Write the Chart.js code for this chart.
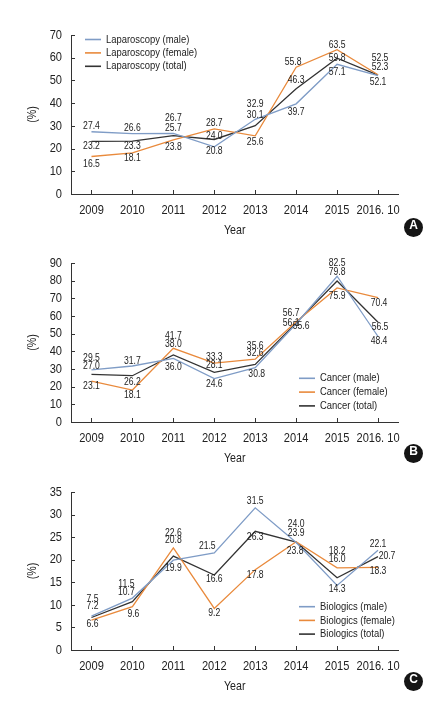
<!DOCTYPE html>
<html>
<head>
<meta charset="utf-8">
<script src="https://cdn.jsdelivr.net/npm/chart.js@4.4.1/dist/chart.umd.min.js"></script>
<style>
  html, body { margin: 0; padding: 0; background: #fff; }
  #page { position: relative; width: 434px; height: 705px; overflow: hidden; background: #fff; }
  .panel { position: absolute; left: 0; width: 434px; }
  .badge {
    position: absolute; left: 404px; width: 19px; height: 19px; border-radius: 50%;
    background: #151515; color: #fff; text-align: center; line-height: 19px;
    font: bold 12px 'Liberation Sans', Arial, sans-serif;
  }
</style>
</head>
<body>
<div id="page">
  <div class="panel" style="top:0;height:240px"><canvas id="chartA"></canvas></div>
  <div class="panel" style="top:240px;height:228px"><canvas id="chartB"></canvas></div>
  <div class="panel" style="top:470px;height:226px"><canvas id="chartC"></canvas></div>
  <div class="badge" style="top:218px">A</div>
  <div class="badge" style="top:444px">B</div>
  <div class="badge" style="top:672px">C</div>
</div>
<script>
// categories
const years = ['2009', '2010', '2011', '2012', '2013', '2014', '2015', '2016. 10'];

// A - laparoscopy (%)
const lapMale   = [27.4, 26.6, 26.7, 20.8, 32.9, 39.7, 57.1, 52.1];
const lapFemale = [16.5, 18.1, 23.8, 28.7, 25.6, 55.8, 63.5, 52.5];
const lapTotal  = [23.2, 23.3, 25.7, 24.0, 30.1, 46.3, 59.8, 52.3];
const lapNames  = ['Laparoscopy (male)', 'Laparoscopy (female)', 'Laparoscopy (total)'];

// B - cancer (%)
const cancerMale   = [29.5, 31.7, 36.0, 24.6, 30.8, 55.6, 82.5, 48.4];
const cancerFemale = [23.1, 18.1, 41.7, 33.3, 35.6, 56.7, 75.9, 70.4];
const cancerTotal  = [27.0, 26.2, 38.0, 28.1, 32.6, 56.1, 79.8, 56.5];
const cancerNames  = ['Cancer (male)', 'Cancer (female)', 'Cancer (total)'];

// C - biologics (%)
const bioMale   = [7.5, 11.5, 19.9, 21.5, 31.5, 23.8, 14.3, 22.1];
const bioFemale = [6.6, 9.6, 22.6, 9.2, 17.8, 24.0, 18.2, 18.3];
const bioTotal  = [7.2, 10.7, 20.8, 16.6, 26.3, 23.9, 16.0, 20.7];
const bioNames  = ['Biologics (male)', 'Biologics (female)', 'Biologics (total)'];

// y axis ranges
const lapAxis = { max: 70, step: 10 };
const cancerAxis = { max: 90, step: 10 };
const bioAxis = { max: 35, step: 5 };

// where each value label sits, relative to its point [dx, dy]
const lapMaleOff   = [[0,-6],[0,-5],[0,-15],[0,4],[0,-15],[0,8],[0,8],[0,6]];
const lapFemaleOff = [[0,7.5],[0,5.5],[0,7],[0,-5.5],[0,6],[-3,-5],[0,-5],[2,-17]];
const lapTotalOff  = [[0,5],[0,5],[0,-8],[0,-3],[0,-10.5],[0,-9],[0,0],[2,-8]];

const cancerMaleOff   = [[0,-12],[0,-4.5],[0,9],[0,6],[1.5,7],[5,2.5],[0,-13],[1,4.5]];
const cancerFemaleOff = [[0,5],[0,5],[0,-12],[0,-6.5],[0,-13],[-5,-8.5],[0,8],[1,5]];
const cancerTotalOff  = [[0,-8],[0,6],[0,-10.5],[0,-7],[0,-11],[-5,0],[0,-9],[2,5]];

const bioMaleOff   = [[1,-17],[-6,-13.5],[0,8],[-7,-7],[0,-7],[-1,9],[0,4],[0,-6]];
const bioFemaleOff = [[1,4],[1,7],[0,-15],[0,5],[0,5],[0,-17.5],[0,-17],[0,4]];
const bioTotalOff  = [[1,-11],[-6,-10],[0,-16],[0,4],[0,5.5],[0,-9],[0,-19],[9,0]];

const FONT = "'Liberation Sans', Arial, sans-serif";
const SQUEEZE = 0.82; // narrow look of the original type
const MALE = '#7f9cc6';
const FEMALE = '#e98a3c';
const TOTAL = '#333333';
const INK = '#222';

function narrowText(ctx, text, x, y, size, align, rot) {
  ctx.save();
  ctx.font = `${size}px ${FONT}`;
  ctx.fillStyle = INK;
  ctx.textAlign = align;
  ctx.textBaseline = 'middle';
  ctx.translate(x, y);
  if (rot) ctx.rotate(rot);
  ctx.scale(SQUEEZE, 1);
  ctx.fillText(text, 0, 0);
  ctx.restore();
}

// value labels next to each point
const valueLabels = {
  id: 'valueLabels',
  afterDatasetsDraw(chart, args, opts) {
    const ctx = chart.ctx;
    chart.data.datasets.forEach((ds, i) => {
      const meta = chart.getDatasetMeta(i);
      meta.data.forEach((pt, j) => {
        const [dx, dy] = opts.offsets[i][j];
        narrowText(ctx, ds.data[j].toFixed(1), pt.x + dx, pt.y + dy, 10.5, 'center');
      });
    });
  }
};

// tick marks pointing into the plot, tick labels and axis titles
const axisDress = {
  id: 'axisDress',
  afterDraw(chart) {
    const { ctx, scales: { x, y }, chartArea } = chart;
    ctx.save();
    ctx.strokeStyle = '#333';
    ctx.lineWidth = 1;
    ctx.beginPath();
    x.ticks.forEach((t, i) => {
      const px = Math.round(x.getPixelForTick(i)) + 0.5;
      ctx.moveTo(px, y.bottom);
      ctx.lineTo(px, y.bottom - 4);
    });
    y.ticks.forEach((t, i) => {
      const py = Math.round(y.getPixelForTick(i)) + 0.5;
      ctx.moveTo(x.left, py);
      ctx.lineTo(x.left + 4, py);
    });
    ctx.stroke();
    ctx.restore();

    x.ticks.forEach((t, i) => {
      narrowText(ctx, x.getLabelForValue(t.value), x.getPixelForTick(i), y.bottom + 16, 13.5, 'center');
    });
    y.ticks.forEach((t, i) => {
      narrowText(ctx, String(t.value), x.left - 9, y.getPixelForTick(i), 13.5, 'right');
    });
    narrowText(ctx, 'Year', (chartArea.left + chartArea.right) / 2, y.bottom + 36, 13, 'center');
    narrowText(ctx, '(%)', 32, (chartArea.top + chartArea.bottom) / 2, 13, 'center', -Math.PI / 2);
  }
};

// legend drawn inside the plot
const lineKey = {
  id: 'lineKey',
  afterDraw(chart, args, opts) {
    const ctx = chart.ctx;
    chart.data.datasets.forEach((ds, i) => {
      const yy = opts.top + i * opts.gap;
      ctx.save();
      ctx.strokeStyle = ds.borderColor;
      ctx.lineWidth = 1.6;
      ctx.beginPath();
      ctx.moveTo(opts.left, yy);
      ctx.lineTo(opts.left + 16, yy);
      ctx.stroke();
      ctx.restore();
      narrowText(ctx, ds.label, opts.left + 21, yy, 11.5, 'left');
    });
  }
};

function makeChart(id, names, male, female, total, offsets, axis, padTop, key) {
  const mk = (label, data, color) => ({
    label, data, borderColor: color, backgroundColor: color,
    borderWidth: 1.3, pointRadius: 0, tension: 0, fill: false
  });
  return new Chart(document.getElementById(id), {
    type: 'line',
    data: {
      labels: years,
      datasets: [mk(names[0], male, MALE), mk(names[1], female, FEMALE), mk(names[2], total, TOTAL)]
    },
    options: {
      responsive: true,
      maintainAspectRatio: false,
      animation: false,
      layout: { padding: { top: padTop, right: 35.5, bottom: 0, left: 0 } },
      plugins: {
        legend: { display: false },
        tooltip: { enabled: false },
        valueLabels: { offsets },
        lineKey: key
      },
      scales: {
        x: {
          offset: true,
          grid: { display: false, drawTicks: false },
          border: { display: true, color: '#333', width: 1 },
          ticks: { display: false, autoSkip: false },
          afterFit(s) { s.height = 46; }
        },
        y: {
          min: 0,
          max: axis.max,
          grid: { display: false, drawTicks: false },
          border: { display: true, color: '#333', width: 1 },
          ticks: { display: false, autoSkip: false, stepSize: axis.step },
          afterFit(s) { s.width = 71; }
        }
      }
    },
    plugins: [valueLabels, axisDress, lineKey]
  });
}

makeChart('chartA', lapNames, lapMale, lapFemale, lapTotal,
  [lapMaleOff, lapFemaleOff, lapTotalOff], lapAxis, 35, { left: 85, top: 39.5, gap: 13.4 });
makeChart('chartB', cancerNames, cancerMale, cancerFemale, cancerTotal,
  [cancerMaleOff, cancerFemaleOff, cancerTotalOff], cancerAxis, 23, { left: 299, top: 138.3, gap: 13.8 });
makeChart('chartC', bioNames, bioMale, bioFemale, bioTotal,
  [bioMaleOff, bioFemaleOff, bioTotalOff], bioAxis, 22, { left: 299, top: 136.7, gap: 13.7 });
</script>
</body>
</html>
